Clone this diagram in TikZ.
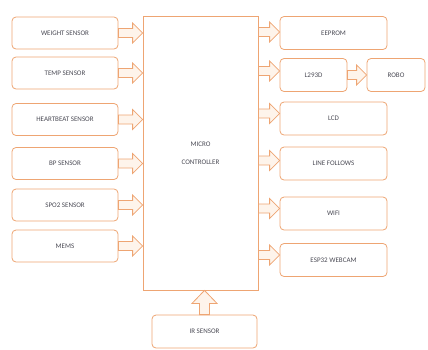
\documentclass[tikz,border=0pt]{standalone}
\usepackage{fontspec}
\setmainfont{Carlito}
\usetikzlibrary{calc}
\definecolor{edge}{RGB}{238,165,115}
\definecolor{afill}{RGB}{254,244,235}
\definecolor{txt}{RGB}{75,75,85}
\tikzset{
  box/.style={draw=edge, line width=0.8pt, rounded corners=4pt, fill=white,
    font=\fontsize{7}{8}\selectfont, text=txt, inner sep=1pt},
  barrow/.style={draw=edge, fill=afill, line width=0.8pt, line join=miter}
}
% horizontal block arrow from #1 to #2 (same height)
\newcommand\blkR[2]{%
  \draw[barrow] let \p1=(#1), \p2=(#2) in
    (\x1,\y1+4.5pt) -- (\x2-10pt,\y1+4.5pt) -- (\x2-10pt,\y1+10pt) -- (\x2,\y1)
    -- (\x2-10pt,\y1-10pt) -- (\x2-10pt,\y1-4.5pt) -- (\x1,\y1-4.5pt) -- cycle;}
% vertical block arrow upward from #1 to #2
\newcommand\blkU[2]{%
  \draw[barrow] let \p1=(#1), \p2=(#2) in
    (\x1-5pt,\y1) -- (\x1-5pt,\y2-13pt) -- (\x1-12.5pt,\y2-13pt) -- (\x1,\y2)
    -- (\x1+12.5pt,\y2-13pt) -- (\x1+5pt,\y2-13pt) -- (\x1+5pt,\y1) -- cycle;}
\begin{document}
\begin{tikzpicture}[x=1pt,y=-1pt]
\useasboundingbox (0,0) rectangle (428,349);
% controller
\node[box, rounded corners=0pt, minimum width=115pt, minimum height=274pt, align=center] (mc) at (200.5,153) {MICRO\\[10pt]CONTROLLER};
% left sensors
\node[box, minimum width=106pt, minimum height=32pt] (w) at (65,33) {WEIGHT SENSOR};
\node[box, minimum width=106pt, minimum height=32pt] (t) at (65,73) {TEMP SENSOR};
\node[box, minimum width=106pt, minimum height=32pt] (h) at (65,119.5) {HEARTBEAT SENSOR};
\node[box, minimum width=106pt, minimum height=32pt] (b) at (65,163.5) {BP SENSOR};
\node[box, minimum width=106pt, minimum height=32pt] (s) at (65,205) {SPO2 SENSOR};
\node[box, minimum width=106pt, minimum height=32pt] (m) at (65,246) {MEMS};
\coordinate (ew) at (w.east -| mc.west);
\coordinate (et) at (t.east -| mc.west);
\coordinate (eh) at (h.east -| mc.west);
\coordinate (eb) at (b.east -| mc.west);
\coordinate (es) at (s.east -| mc.west);
\coordinate (em) at (m.east -| mc.west);
\blkR{w.east}{ew}
\blkR{t.east}{et}
\blkR{h.east}{eh}
\blkR{b.east}{eb}
\blkR{s.east}{es}
\blkR{m.east}{em}
% right outputs
\node[box, minimum width=107pt, minimum height=33pt] (ee) at (333.5,33) {EEPROM};
\node[box, minimum width=67pt, minimum height=33pt] (l2) at (313.5,75) {L293D};
\node[box, minimum width=58pt, minimum height=33pt] (ro) at (396,75) {ROBO};
\node[box, minimum width=107pt, minimum height=33pt] (lcd) at (333.5,118.5) {LCD};
\node[box, minimum width=107pt, minimum height=33pt] (lf) at (333.5,163.5) {LINE FOLLOWS};
\node[box, minimum width=107pt, minimum height=33pt] (wf) at (333.5,213.5) {WIFI};
\node[box, minimum width=107pt, minimum height=33pt] (esp) at (333.5,260) {ESP32 WEBCAM};
\coordinate (see) at ($(ee.west -| mc.east)+(0,-1)$);  \coordinate (tee) at ($(ee.west)+(0,-1)$);
\coordinate (sl2) at ($(l2.west -| mc.east)+(0,-4)$);  \coordinate (tl2) at ($(l2.west)+(0,-4)$);
\coordinate (slcd) at ($(lcd.west -| mc.east)+(0,-5)$); \coordinate (tlcd) at ($(lcd.west)+(0,-5)$);
\coordinate (slf) at ($(lf.west -| mc.east)+(0,-3)$);  \coordinate (tlf) at ($(lf.west)+(0,-3)$);
\coordinate (swf) at ($(wf.west -| mc.east)+(0,-5)$);  \coordinate (twf) at ($(wf.west)+(0,-5)$);
\coordinate (sesp) at ($(esp.west -| mc.east)+(0,-5)$); \coordinate (tesp) at ($(esp.west)+(0,-5)$);
\blkR{see}{tee}
\blkR{sl2}{tl2}
\blkR{slcd}{tlcd}
\blkR{slf}{tlf}
\blkR{swf}{twf}
\blkR{sesp}{tesp}
\blkR{l2.east}{ro.west}
% IR sensor
\node[box, minimum width=105pt, minimum height=33pt] (ir) at (204.5,331.5) {IR SENSOR};
\coordinate (tir) at (ir.north |- mc.south);
\blkU{ir.north}{tir}
\end{tikzpicture}
\end{document}
